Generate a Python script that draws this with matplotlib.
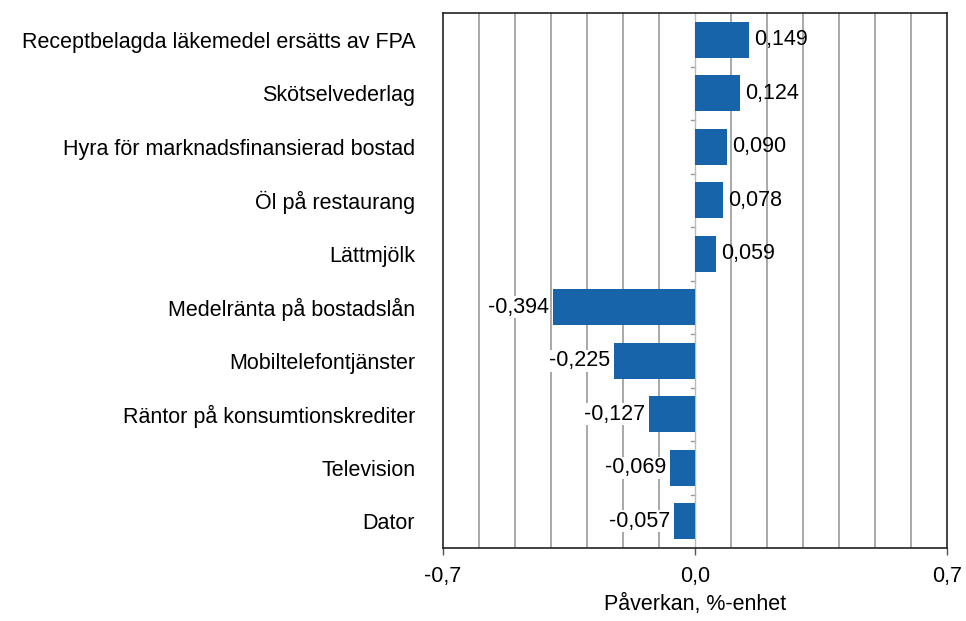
import matplotlib.pyplot as plt
import numpy as np

# Data
categories = [
    "Receptbelagda läkemedel ersätts av FPA",
    "Skötselvederlag",
    "Hyra för marknadsfinansierad bostad",
    "Öl på restaurang",
    "Lättmjölk",
    "Medelränta på bostadslån",
    "Mobiltelefontjänster",
    "Räntor på konsumtionskrediter",
    "Television",
    "Dator",
]
values = [0.149, 0.124, 0.090, 0.078, 0.059, -0.394, -0.225, -0.127, -0.069, -0.057]
xticks = [-0.7, 0.0, 0.7]
xtick_labels = ["-0,7", "0,0", "0,7"]

plt.rcParams['font.family'] = ['Liberation Sans', 'DejaVu Sans']
FS = 15.5

fig = plt.figure(figsize=(9.66, 6.21), dpi=100)
ax = fig.add_axes([443 / 966, 1 - 548 / 621, 504 / 966, 535 / 621])

y = np.arange(len(categories))
ax.barh(y, values, height=0.68, color='#1764ab', zorder=3)

# labels beside bars, with decimal comma
for yi, v in zip(y, values):
    txt = f"{v:.3f}".replace('.', ',')
    if v >= 0:
        ax.text(v + 0.014, yi, txt, va='center', ha='left', fontsize=FS, zorder=4)
    else:
        ax.text(v - 0.012, yi, txt, va='center', ha='right', fontsize=FS, zorder=4,
                bbox=dict(facecolor='white', edgecolor='none', pad=0.5))

ax.set_xlim(-0.7, 0.7)
ax.set_ylim(len(categories) - 0.5, -0.5)

# vertical grid every 0.1
for gx in np.arange(-0.6, 0.65, 0.1):
    if abs(gx) > 1e-9:
        ax.axvline(gx, color='#999999', lw=1.2, zorder=1)

ax.set_xticks(xticks)
ax.set_xticklabels(xtick_labels, fontsize=FS)
ax.tick_params(axis='x', length=5, width=1, color='#555555', pad=8)

# category labels without ticks at the left edge
ax.set_yticks(y)
ax.set_yticklabels(categories, fontsize=FS)
ax.tick_params(axis='y', length=0, pad=20)

# small ticks on the zero line between categories
for b in np.arange(0.5, len(categories) - 0.5, 1.0):
    ax.plot([-0.012, 0], [b, b], color='#999999', lw=1, zorder=2, clip_on=False)
ax.axvline(0, color='#bbbbbb', lw=1, zorder=2)

for s in ax.spines.values():
    s.set_color('#222222')
    s.set_linewidth(1.2)

ax.set_xlabel("Påverkan, %-enhet", fontsize=FS, labelpad=5)

fig.savefig("out.png", dpi=100)
